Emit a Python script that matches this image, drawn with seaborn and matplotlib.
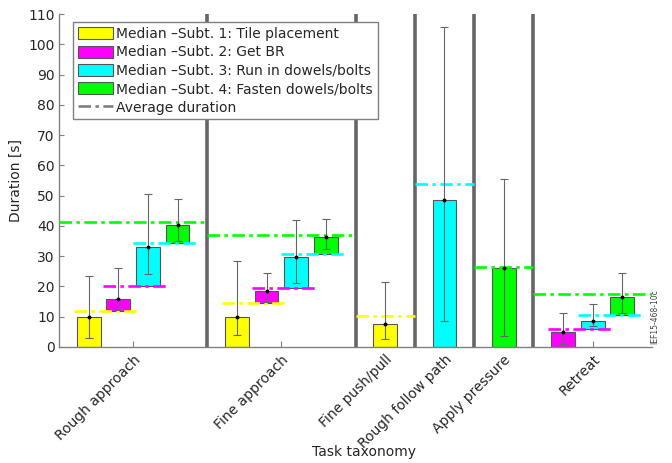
import numpy as np
import pandas as pd
import matplotlib
matplotlib.use("Agg")
import matplotlib.pyplot as plt
import seaborn as sns
from matplotlib.patches import Patch
from matplotlib.lines import Line2D

nan = np.nan

tasks = ["Rough approach", "Fine approach", "Fine push/pull",
         "Rough follow path", "Apply pressure", "Retreat"]
subtasks = ["Tile placement", "Get BR", "Run in dowels/bolts", "Fasten dowels/bolts"]
colors = ["#ffff00", "#ff00ff", "#00ffff", "#00ff00"]

# median duration of each subtask per task (nan = subtask not part of task)
median_1 = [10.0, 10.0, 7.6, nan, nan, nan]
median_2 = [3.9, 4.0, nan, nan, nan, 5.0]
median_3 = [13.0, 10.2, nan, 48.6, nan, 2.9]
median_4 = [6.0, 5.5, nan, nan, 26.2, 6.0]

# cumulative average duration after each subtask
avg_1 = [12.0, 14.5, 10.3, nan, nan, nan]
avg_2 = [20.0, 19.5, nan, nan, nan, 5.8]
avg_3 = [34.3, 30.8, nan, 53.8, nan, 10.5]
avg_4 = [41.3, 37.0, nan, nan, 26.4, 17.5]

# whisker ends (absolute duration)
low_1 = [3.0, 4.0, 2.6, nan, nan, nan]
high_1 = [23.5, 28.5, 21.5, nan, nan, nan]
low_2 = [12.3, 15.0, nan, nan, nan, 1.0]
high_2 = [26.0, 24.5, nan, nan, nan, 11.1]
low_3 = [24.0, 21.0, nan, 8.6, nan, 7.0]
high_3 = [50.5, 42.0, nan, 105.6, nan, 14.2]
low_4 = [35.0, 32.4, nan, nan, 3.6, 11.3]
high_4 = [49.0, 42.3, nan, nan, 55.5, 24.4]

medians = [median_1, median_2, median_3, median_4]
avgs = [avg_1, avg_2, avg_3, avg_4]
lows = [low_1, low_2, low_3, low_4]
highs = [high_1, high_2, high_3, high_4]

# build long table with slot positions, each task gets (n subtasks + 1) slots
rows = []
bounds = [0]
centers = []
cursor = 0
for t, task in enumerate(tasks):
    present = [s for s in range(4) if not np.isnan(medians[s][t])]
    end = cursor + len(present) + 1
    prev_avg = 0.0
    for k, s in enumerate(present):
        pos = cursor + 1 + k
        last = k == len(present) - 1
        rows.append(dict(task=task, sub=s, pos=pos, bottom=prev_avg,
                         median=medians[s][t], top=prev_avg + medians[s][t],
                         avg=avgs[s][t], low=lows[s][t], high=highs[s][t],
                         x0=cursor if last else pos - 0.5,
                         x1=end if last else pos + 1.67))
        prev_avg = avgs[s][t]
    centers.append((cursor + end) / 2)
    cursor = end
    bounds.append(end)
df = pd.DataFrame(rows)

sns.set_style("ticks")
plt.rcParams["font.family"] = ["DejaVu Sans"]
plt.rcParams["lines.scale_dashes"] = False

fig = plt.figure(figsize=(6.72, 4.63), dpi=100)
ax = fig.add_axes([59 / 672, 1 - 347 / 463, 593 / 672, 333 / 463])

dash = (0, (9, 3.2, 2.5, 3.2))

for s in range(4):
    sub = df[df["sub"] == s]
    steps = np.diff(np.unique(sub["pos"]))
    w = 0.8 / steps.min() if len(steps) else 0.8
    sns.barplot(data=sub, x="pos", y="median", bottom=sub["bottom"].values,
                native_scale=True, width=w, color=colors[s], saturation=1,
                edgecolor="#555555", linewidth=0.8, errorbar=None, ax=ax, zorder=2)

for s in range(4):
    sub = df[df["sub"] == s]
    ax.hlines(sub["avg"], sub["x0"], sub["x1"], colors=colors[s],
              linestyles=[dash], linewidth=1.9, zorder=3)

ax.errorbar(df["pos"], df["top"], yerr=[df["top"] - df["low"], df["high"] - df["top"]],
            fmt="o", color="black", ms=1.8, ecolor="#666666", elinewidth=0.8,
            capsize=2.8, capthick=0.8, zorder=4)

ax.vlines(bounds[1:-1], 0, 110, colors="#666666", linewidth=2.6, zorder=1)

ax.set_xlim(bounds[0], bounds[-1])
ax.set_ylim(0, 110)
ax.set_yticks(range(0, 111, 10))
ax.set_xticks(centers)
ax.set_xticklabels(tasks, rotation=45, ha="right", rotation_mode="anchor")
ax.tick_params(axis="both", direction="in", length=3.5, color="#808080",
               labelsize=10, pad=3)
ax.tick_params(axis="x", length=4.5, pad=4)
sns.despine(ax=ax)
for side in ["left", "bottom"]:
    ax.spines[side].set_color("#808080")
    ax.spines[side].set_linewidth(1)

ax.set_ylabel("Duration [s]", fontsize=10)
ax.set_xlabel("Task taxonomy", fontsize=10)
ax.xaxis.set_label_coords(0.514, -0.295)

handles = [Patch(facecolor=colors[i], edgecolor="#555555", linewidth=0.8,
                 label=f"Median \u2013Subt. {i + 1}: {subtasks[i]}") for i in range(4)]
handles.append(Line2D([], [], color="#808080", linestyle=dash, linewidth=1.9,
                      label="Average duration"))
leg = ax.legend(handles=handles, loc="upper left", bbox_to_anchor=(0.024, 0.976),
                borderaxespad=0, fontsize=10, frameon=True, fancybox=False,
                framealpha=1, edgecolor="#808080", handlelength=2.5,
                handleheight=0.95, handletextpad=0.25, labelspacing=0.32,
                borderpad=0.35)
leg.get_frame().set_linewidth(1)
leg.set_zorder(6)

ax.text(1.004, 0.008, "IEF15-468-10c", transform=ax.transAxes, rotation=90,
        ha="center", va="bottom", fontsize=5.5, color="#444444")

fig.savefig("out.png", dpi=100)
